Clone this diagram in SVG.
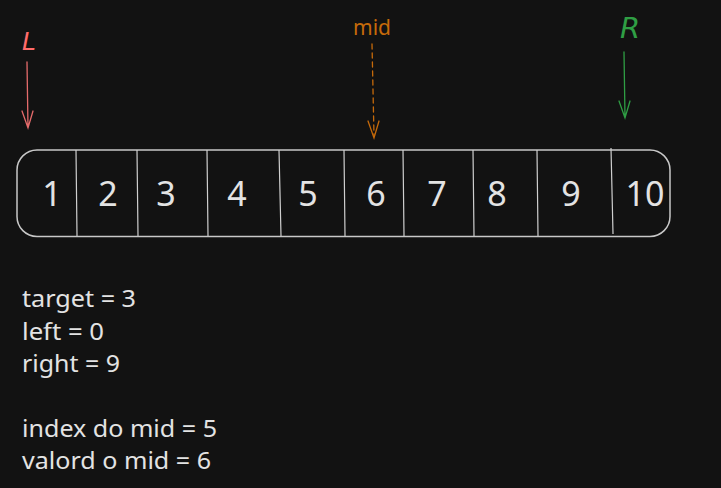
<svg xmlns="http://www.w3.org/2000/svg" width="721" height="488" viewBox="0 0 721 488">
<style>
.num{font-family:"Noto Sans","DejaVu Sans",sans-serif;font-size:34px;fill:#e3e3e3;text-anchor:middle}
.txt{font-family:"Noto Sans","DejaVu Sans",sans-serif;font-size:23px;fill:#e3e3e3}
.div{stroke:#cfcfcf;stroke-width:1.2;fill:none}
</style>
<rect width="721" height="488" fill="#121212"/>
<g id="array">
<rect x="17" y="150" width="653" height="86.5" rx="20" fill="none" stroke="#c8c8c8" stroke-width="1.5"/>
<path class="div" d="M76 150 L77 236 M137 150 L138 236 M207 150 L208 236 M279 150 L281 236 M344 150 L345 236 M403 150 L404 236 M473 150 L474 236 M537 150 L538 236 M611 148 L613 234"/>
<text class="num" x="52" y="206">1</text>
<text class="num" x="108" y="206">2</text>
<text class="num" x="166" y="206">3</text>
<text class="num" x="237" y="206">4</text>
<text class="num" x="308" y="206">5</text>
<text class="num" x="376" y="206">6</text>
<text class="num" x="437" y="206">7</text>
<text class="num" x="497" y="206">8</text>
<text class="num" x="571" y="206">9</text>
<text class="num" x="645" y="206">10</text>
</g>
<g id="label-L"><text x="29" y="50" font-family="DejaVu Sans, sans-serif" font-style="italic" font-size="25" fill="#ff6b6b" text-anchor="middle">L</text></g>
<g id="label-R"><text x="630" y="38" font-family="DejaVu Sans, sans-serif" font-style="italic" font-size="29" fill="#2f9e44" text-anchor="middle">R</text></g>
<g id="label-mid"><text x="372" y="35" font-family="Noto Sans, sans-serif" font-size="21" fill="#c66a0a" text-anchor="middle">mid</text></g>
<g id="connectors" fill="none" stroke-linecap="round">
<path d="M27 62 L28 128 M22 111 L28 128 L33 111" stroke="#e56b6b" stroke-width="1.3"/>
<path d="M624 52 L625 118 M619 101 L625 118 L630 101" stroke="#2f9e44" stroke-width="1.3"/>
<path d="M372 44 L374 136" stroke="#c66a0a" stroke-width="1.3" stroke-dasharray="5 4"/>
<path d="M368 121 L374 138 L379 121" stroke="#c66a0a" stroke-width="1.3"/>
</g>
<g id="info">
<text class="txt" x="22" y="307" textLength="114" lengthAdjust="spacingAndGlyphs">target = 3</text>
<text class="txt" x="22" y="340" textLength="82" lengthAdjust="spacingAndGlyphs">left = 0</text>
<text class="txt" x="22" y="372" textLength="98" lengthAdjust="spacingAndGlyphs">right = 9</text>
<text class="txt" x="22" y="437" textLength="195" lengthAdjust="spacingAndGlyphs">index do mid = 5</text>
<text class="txt" x="22" y="469" textLength="189" lengthAdjust="spacingAndGlyphs">valord o mid = 6</text>
</g>
</svg>
